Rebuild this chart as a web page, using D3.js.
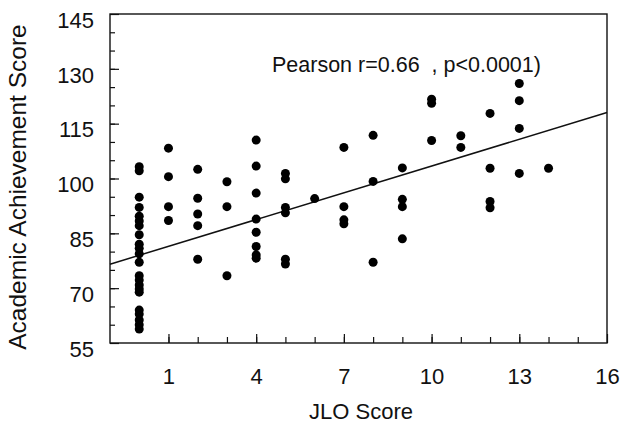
<!DOCTYPE html>
<html>
<head>
<meta charset="utf-8">
<script src="https://cdn.jsdelivr.net/npm/d3@7"></script>
<style>
  body { margin: 0; background: #fff; }
  svg text { font-family: "Liberation Sans", Arial, sans-serif; fill: #111; }
</style>
</head>
<body>
<svg id="chart" width="620" height="428"></svg>
<script>
// JLO score (x) and academic achievement score (y), one entry per student
const jloScore = [
  0,0,0,0,0,0,0,0,0,0,0,0,0,0,0,0,0,0,0,0,0,0,
  1,1,1,1,
  2,2,2,2,2,
  3,3,3,
  4,4,4,4,4,4,4,4,
  5,5,5,5,5,5,
  6,
  7,7,7,7,
  8,8,8,
  9,9,9,9,
  10,10,10,
  11,11,
  12,12,12,12,
  13,13,13,13,
  14
];
const achievementScore = [
  103.2,102.1,94.9,92.1,89.7,88.4,87.1,84.6,82.0,80.9,79.4,77.1,73.4,72.2,70.9,69.8,68.9,64.0,62.9,61.3,60.0,58.8,
  108.3,100.5,92.3,88.5,
  102.5,94.6,90.3,87.1,77.9,
  99.1,92.3,73.4,
  110.5,103.4,96.0,88.9,85.3,81.4,79.1,78.2,
  101.4,99.9,92.1,90.6,77.9,76.6,
  94.5,
  108.5,92.3,88.7,87.6,
  111.8,99.2,77.1,
  102.9,94.3,92.3,83.5,
  121.7,120.6,110.4,
  111.7,108.5,
  117.8,102.8,93.7,92.0,
  126.0,121.3,113.7,101.4,
  102.8
];

const xTickLabels = [1, 4, 7, 10, 13, 16];
const yTickLabels = [55, 70, 85, 100, 115, 130, 145];

// fitted line as drawn in the figure
const fitIntercept = 79.0;
const fitSlope = 2.44;
const note = "Pearson r=0.66\u00a0\u00a0, p<0.0001)";

const plotL = 110, plotR = 607, plotT = 14, plotB = 343;

const svg = d3.select("#chart");

const x = d3.scaleLinear().domain([-1, 16]).range([plotL, plotR]);
const y = d3.scaleLinear().domain([55, 145]).range([plotB, plotT]);

// minor ticks
svg.append("g")
    .attr("transform", `translate(0,${plotB})`)
    .call(d3.axisBottom(x).tickValues(d3.range(1, 16)).tickSize(-6).tickFormat(""))
    .call(g => g.select(".domain").remove());
svg.append("g")
    .attr("transform", `translate(${plotL},0)`)
    .call(d3.axisLeft(y).tickValues(d3.range(60, 145, 5)).tickSize(-5).tickFormat(""))
    .call(g => g.select(".domain").remove());

// major ticks + labels
const xAxis = svg.append("g")
    .attr("transform", `translate(0,${plotB})`)
    .call(d3.axisBottom(x).tickValues(xTickLabels).tickSize(-9).tickPadding(25));
xAxis.select(".domain").remove();

const yAxis = svg.append("g")
    .attr("transform", `translate(${plotL},0)`)
    .call(d3.axisLeft(y).tickValues(yTickLabels).tickSize(-9).tickPadding(16));
yAxis.select(".domain").remove();
yAxis.selectAll("text").attr("dy", "0.6em");

svg.selectAll(".tick line").attr("stroke", "#111").attr("stroke-width", 1.2);
svg.selectAll(".tick text").attr("font-size", 22).attr("fill", "#111")
    .style("font-family", '"Liberation Sans", Arial, sans-serif');

// frame
svg.append("rect")
    .attr("x", plotL).attr("y", plotT)
    .attr("width", plotR - plotL).attr("height", plotB - plotT)
    .attr("fill", "none").attr("stroke", "#111").attr("stroke-width", 1.4);

// regression line
svg.append("line")
    .attr("x1", x(-1)).attr("y1", y(fitIntercept + fitSlope * -1))
    .attr("x2", x(16)).attr("y2", y(fitIntercept + fitSlope * 16))
    .attr("stroke", "#111").attr("stroke-width", 1.5);

// points
svg.append("g").selectAll("circle")
    .data(jloScore.map((d, i) => [d, achievementScore[i]]))
    .join("circle")
    .attr("cx", d => x(d[0]))
    .attr("cy", d => y(d[1]))
    .attr("r", 4.5)
    .attr("fill", "#000");

svg.append("text")
    .attr("x", 272).attr("y", 72)
    .attr("font-size", 21.5)
    .text(note);

svg.append("text")
    .attr("x", 361).attr("y", 419)
    .attr("text-anchor", "middle")
    .attr("font-size", 22)
    .text("JLO Score");

svg.append("text")
    .attr("transform", "translate(26,187) rotate(-90)")
    .attr("text-anchor", "middle")
    .attr("font-size", 24.5)
    .text("Academic Achievement Score");
</script>
</body>
</html>
